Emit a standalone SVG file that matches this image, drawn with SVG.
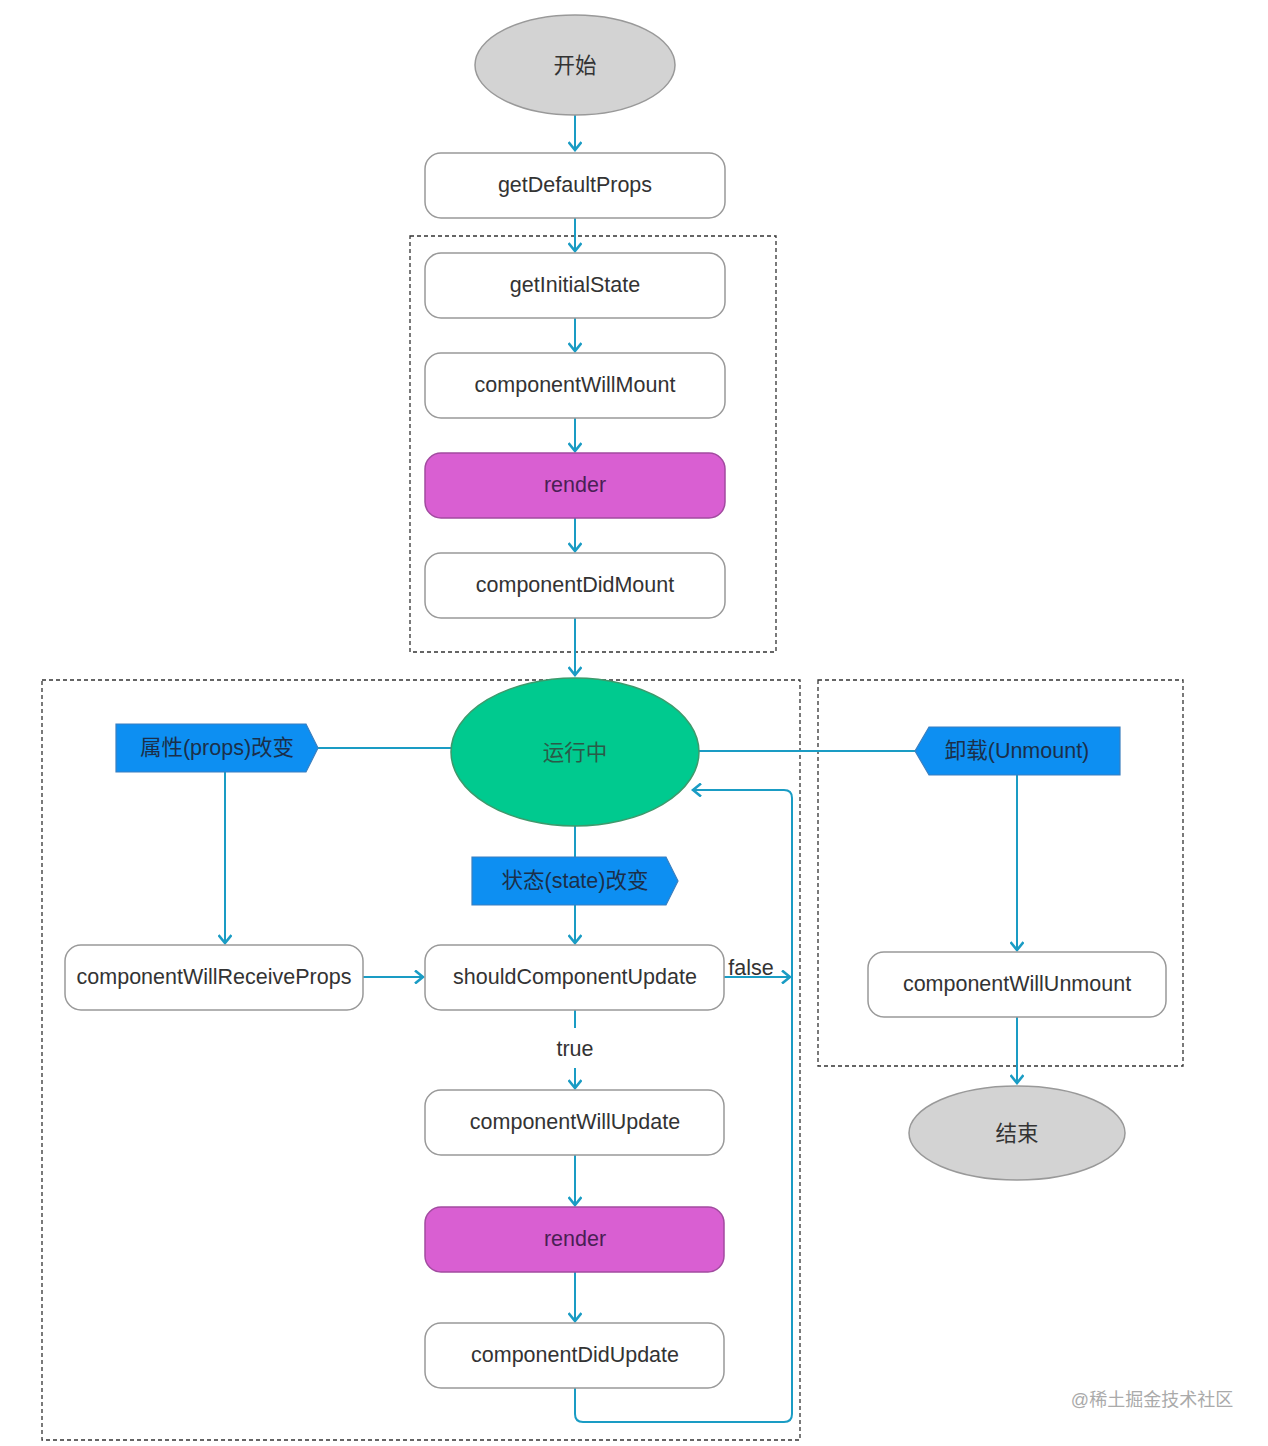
<svg xmlns="http://www.w3.org/2000/svg" width="1268" height="1446" viewBox="0 0 1268 1446">
<defs>
<marker id="arr" viewBox="0 0 14 14" refX="12" refY="7" markerWidth="14" markerHeight="14" markerUnits="userSpaceOnUse" orient="auto">
<path d="M4,0.5 L12,7 L4,13.5" fill="none" stroke="#1a9cc4" stroke-width="2.6"/>
</marker>
</defs>
<style>
text{font-family:"Liberation Sans","Noto Sans CJK SC",sans-serif;font-size:21.5px;fill:#333;text-anchor:middle;dominant-baseline:central}
.box{fill:#fff;stroke:#999;stroke-width:1.5}
.rend{fill:#d95fd2;stroke:#a24ba0;stroke-width:1.5}
.oval{fill:#d3d3d3;stroke:#999;stroke-width:1.5}
.tag{fill:#0d8ff2;stroke:#3b7fbf;stroke-width:1.2}
.grp{fill:none;stroke:#333;stroke-width:1.3;stroke-dasharray:4,3}
.c{fill:none;stroke:#1a9cc4;stroke-width:2}
.a{marker-end:url(#arr)}
</style>
<rect width="1268" height="1446" fill="#fff"/>
<g id="groups">
<rect class="grp" x="410" y="236" width="366" height="416"/>
<rect class="grp" x="42" y="680" width="758" height="760"/>
<rect class="grp" x="818" y="680" width="365" height="386"/>
</g>
<g id="connectors">
<path class="c a" d="M575,115 L575,150"/>
<path class="c a" d="M575,218 L575,251"/>
<path class="c a" d="M575,318 L575,351"/>
<path class="c a" d="M575,418 L575,451"/>
<path class="c a" d="M575,518 L575,551"/>
<path class="c a" d="M575,618 L575,675"/>
<path class="c" d="M318,748 L451,748"/>
<path class="c a" d="M225,772 L225,943"/>
<path class="c" d="M575,826 L575,857"/>
<path class="c a" d="M575,905 L575,943"/>
<path class="c a" d="M363,977 L423,977"/>
<path class="c a" d="M724,977 L790,977"/>
<path class="c" d="M575,1010 L575,1028"/>
<path class="c a" d="M575,1068 L575,1088"/>
<path class="c a" d="M575,1155 L575,1205"/>
<path class="c a" d="M575,1272 L575,1321"/>
<path class="c a" d="M575,1388 L575,1414 Q575,1422 583,1422 L784,1422 Q792,1422 792,1414 L792,798 Q792,790 784,790 L693,790"/>
<path class="c" d="M699,751 L915,751"/>
<path class="c a" d="M1017,775 L1017,950"/>
<path class="c a" d="M1017,1017 L1017,1083"/>
<text x="751" y="968">false</text>
<text x="575" y="1049">true</text>
</g>
<g id="start"><ellipse class="oval" cx="575" cy="65" rx="100" ry="50"/><text x="575" y="66">开始</text></g>
<g id="getDefaultProps"><rect class="box" x="425" y="153" width="300" height="65" rx="16"/><text x="575" y="185">getDefaultProps</text></g>
<g id="getInitialState"><rect class="box" x="425" y="253" width="300" height="65" rx="16"/><text x="575" y="285">getInitialState</text></g>
<g id="componentWillMount"><rect class="box" x="425" y="353" width="300" height="65" rx="16"/><text x="575" y="385">componentWillMount</text></g>
<g id="render1"><rect class="rend" x="425" y="453" width="300" height="65" rx="16"/><text x="575" y="485" style="fill:#4a1f55">render</text></g>
<g id="componentDidMount"><rect class="box" x="425" y="553" width="300" height="65" rx="16"/><text x="575" y="585">componentDidMount</text></g>
<g id="running"><ellipse cx="575" cy="752" rx="124" ry="74" fill="#00ca8f" stroke="#3d9a6c" stroke-width="1.5"/><text x="575" y="753" style="fill:#2a5a48">运行中</text></g>
<g id="propsChange"><path class="tag" d="M116,724 L306,724 L318,748 L306,772 L116,772 Z"/><text x="217" y="748" style="fill:#1b2f4a">属性(props)改变</text></g>
<g id="stateChange"><path class="tag" d="M472,857 L666,857 L678,881 L666,905 L472,905 Z"/><text x="575" y="881" style="fill:#1b2f4a">状态(state)改变</text></g>
<g id="unmount"><path class="tag" d="M929,727 L1120,727 L1120,775 L929,775 L915,751 Z"/><text x="1017" y="751" style="fill:#1b2f4a">卸载(Unmount)</text></g>
<g id="componentWillReceiveProps"><rect class="box" x="65" y="945" width="298" height="65" rx="16"/><text x="214" y="977">componentWillReceiveProps</text></g>
<g id="shouldComponentUpdate"><rect class="box" x="425" y="945" width="299" height="65" rx="16"/><text x="575" y="977">shouldComponentUpdate</text></g>
<g id="componentWillUpdate"><rect class="box" x="425" y="1090" width="299" height="65" rx="16"/><text x="575" y="1122">componentWillUpdate</text></g>
<g id="render2"><rect class="rend" x="425" y="1207" width="299" height="65" rx="16"/><text x="575" y="1239" style="fill:#4a1f55">render</text></g>
<g id="componentDidUpdate"><rect class="box" x="425" y="1323" width="299" height="65" rx="16"/><text x="575" y="1355">componentDidUpdate</text></g>
<g id="componentWillUnmount"><rect class="box" x="868" y="952" width="298" height="65" rx="16"/><text x="1017" y="984">componentWillUnmount</text></g>
<g id="end"><ellipse class="oval" cx="1017" cy="1133" rx="108" ry="47"/><text x="1017" y="1134">结束</text></g>
<text x="1152" y="1400" style="font-size:18px;fill:#aaa">@稀土掘金技术社区</text>
</svg>
